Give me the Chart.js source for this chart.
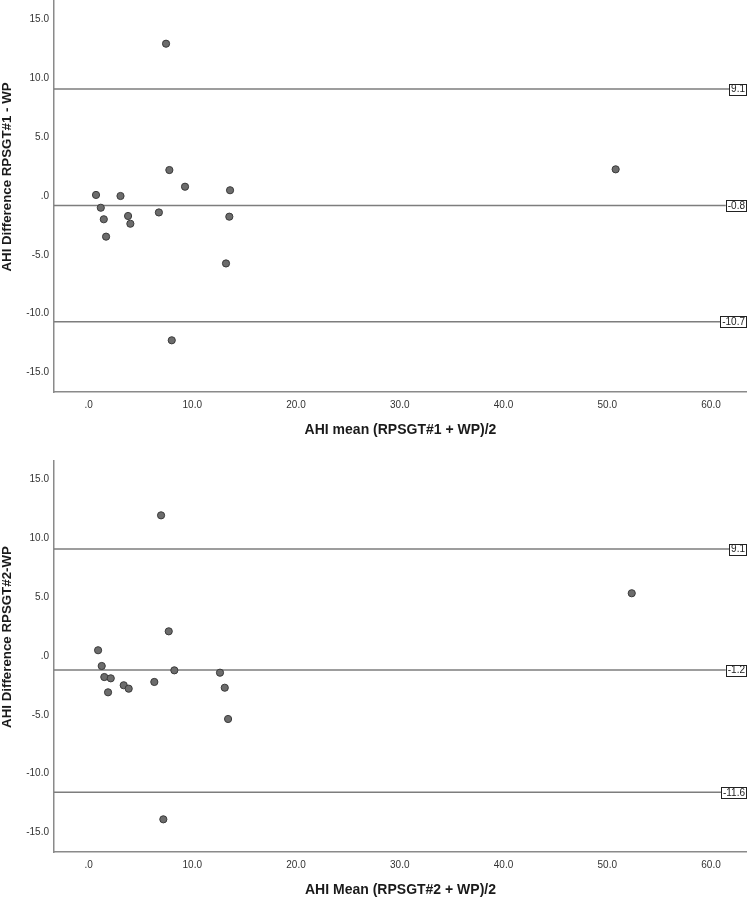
<!DOCTYPE html>
<html>
<head>
<meta charset="utf-8">
<script src="https://cdn.jsdelivr.net/npm/chart.js@4.4.1/dist/chart.umd.min.js"></script>
<style>
    html, body { margin: 0; padding: 0; width: 747px; height: 897px; overflow: hidden; background: #fff; }
    .panel { position: absolute; left: 0; width: 747px; height: 448px; }
    #p1 { top: 0; }
    #p2 { top: 460px; }
</style>
</head>
<body>
<div class="panel" id="p1"><canvas id="c1"></canvas></div>
<div class="panel" id="p2"><canvas id="c2"></canvas></div>
<script>
// --- datos ---
const X_MIN = -3.33, X_MAX = 63.47;
const Y_MIN = -16.68, Y_MAX = 16.68;

// Panel 1: RPSGT#1 vs WP
const media1 = [0.72, 3.08, 7.47, 7.79, 9.30, 13.64, 1.18, 1.47, 1.69, 3.81, 4.03, 6.78, 13.57, 13.25, 8.02, 50.81];
const dif1   = [0.09, 0.00, 12.96, 2.21, 0.79, 0.49, -1.00, -1.98, -3.46, -1.70, -2.36, -1.40, -1.76, -5.74, -12.28, 2.27];
const limites1 = [9.1, -0.8, -10.7];

// Panel 2: RPSGT#2 vs WP
const media2 = [0.92, 6.99, 7.73, 1.27, 1.52, 2.14, 1.88, 3.39, 3.87, 6.34, 8.27, 12.67, 13.13, 13.45, 7.21, 52.36];
const dif2   = [0.49, 11.97, 2.10, -0.85, -1.79, -1.90, -3.09, -2.49, -2.78, -2.21, -1.22, -1.42, -2.70, -5.36, -13.90, 5.34];
const limites2 = [9.1, -1.2, -11.6];

const FUENTE = '"Liberation Sans", Arial, sans-serif';

// formato estilo SPSS: 0 -> ".0"
function fmt(v) {
    if (Math.abs(v) < 1e-9) return '.0';
    return v.toFixed(1);
}

// título vertical desplazado hacia arriba como en el original
const tituloY = {
    id: 'tituloY',
    afterDraw(chart, args, opts) {
        const ctx = chart.ctx;
        const area = chart.chartArea;
        ctx.save();
        ctx.translate(7, (area.top + area.bottom) / 2 - 19);
        ctx.rotate(-Math.PI / 2);
        ctx.font = 'bold 13.3px ' + FUENTE;
        ctx.fillStyle = '#1a1a1a';
        ctx.textAlign = 'center';
        ctx.textBaseline = 'middle';
        ctx.fillText(opts.text, 0, 0);
        ctx.restore();
    }
};

// etiquetas en caja al final de cada línea de referencia
const cajas = {
    id: 'cajas',
    afterDatasetsDraw(chart, args, opts) {
        const ctx = chart.ctx;
        const y = chart.scales.y;
        const derecha = chart.chartArea.right - 1;
        ctx.save();
        ctx.font = '10px ' + FUENTE;
        ctx.textBaseline = 'middle';
        ctx.textAlign = 'right';
        opts.valores.forEach(v => {
            const py = y.getPixelForValue(v);
            const txt = fmt(v);
            const w = ctx.measureText(txt).width + 3;
            ctx.fillStyle = '#fff';
            ctx.fillRect(derecha - w, py - 5.5, w, 11);
            ctx.strokeStyle = '#222';
            ctx.lineWidth = 1;
            ctx.strokeRect(Math.round(derecha - w) + 0.5, Math.round(py - 5.5) + 0.5, Math.round(w), 11);
            ctx.fillStyle = '#222';
            ctx.fillText(txt, derecha - 1, py + 0.5);
        });
        ctx.restore();
    }
};

function crearGrafica(id, medias, difs, limites, tituloX, textoY) {
    const puntos = medias.map((m, i) => ({ x: m, y: difs[i] }));
    const lineas = limites.map(v => ({
        type: 'line',
        data: [{ x: X_MIN, y: v }, { x: X_MAX, y: v }],
        borderColor: '#7d7d7d',
        borderWidth: 1.5,
        pointRadius: 0,
        showLine: true,
        order: 2
    }));

    return new Chart(document.getElementById(id), {
        type: 'scatter',
        data: {
            datasets: [
                {
                    data: puntos,
                    pointRadius: 3.6,
                    pointBackgroundColor: '#6c6c6c',
                    pointBorderColor: '#3a3a3a',
                    pointBorderWidth: 1,
                    order: 1
                },
                ...lineas
            ]
        },
        options: {
            responsive: true,
            maintainAspectRatio: false,
            animation: false,
            layout: { padding: 0, autoPadding: false },
            plugins: {
                legend: { display: false },
                tooltip: { enabled: false },
                tituloY: { text: textoY },
                cajas: { valores: limites }
            },
            scales: {
                x: {
                    type: 'linear',
                    position: 'bottom',
                    min: X_MIN,
                    max: X_MAX,
                    afterFit: s => { s.height = 56; s.paddingLeft = 0; s.paddingRight = 0; },
                    grid: { display: false, drawTicks: false },
                    border: { display: true, color: '#8a8a8a', width: 1.5 },
                    ticks: {
                        stepSize: 10,
                        includeBounds: false,
                        autoSkip: false,
                        maxRotation: 0,
                        padding: 7,
                        color: '#333',
                        font: { size: 10, family: FUENTE },
                        callback: v => fmt(v)
                    },
                    title: {
                        display: true,
                        text: tituloX,
                        color: '#1a1a1a',
                        font: { size: 14, weight: 'bold', family: FUENTE },
                        padding: { top: 0, bottom: 9 }
                    }
                },
                y: {
                    type: 'linear',
                    min: Y_MIN,
                    max: Y_MAX,
                    afterFit: s => { s.width = 54; s.paddingTop = 0; s.paddingBottom = 0; },
                    grid: { display: false, drawTicks: false },
                    border: { display: true, color: '#8a8a8a', width: 1.5 },
                    ticks: {
                        stepSize: 5,
                        includeBounds: false,
                        padding: 5,
                        color: '#333',
                        font: { size: 10, family: FUENTE },
                        callback: v => fmt(v)
                    }
                }
            }
        },
        plugins: [tituloY, cajas]
    });
}

crearGrafica('c1', media1, dif1, limites1, 'AHI mean (RPSGT#1 + WP)/2', 'AHI Difference RPSGT#1 - WP');
crearGrafica('c2', media2, dif2, limites2, 'AHI Mean (RPSGT#2 + WP)/2', 'AHI Difference RPSGT#2-WP');
</script>
</body>
</html>
